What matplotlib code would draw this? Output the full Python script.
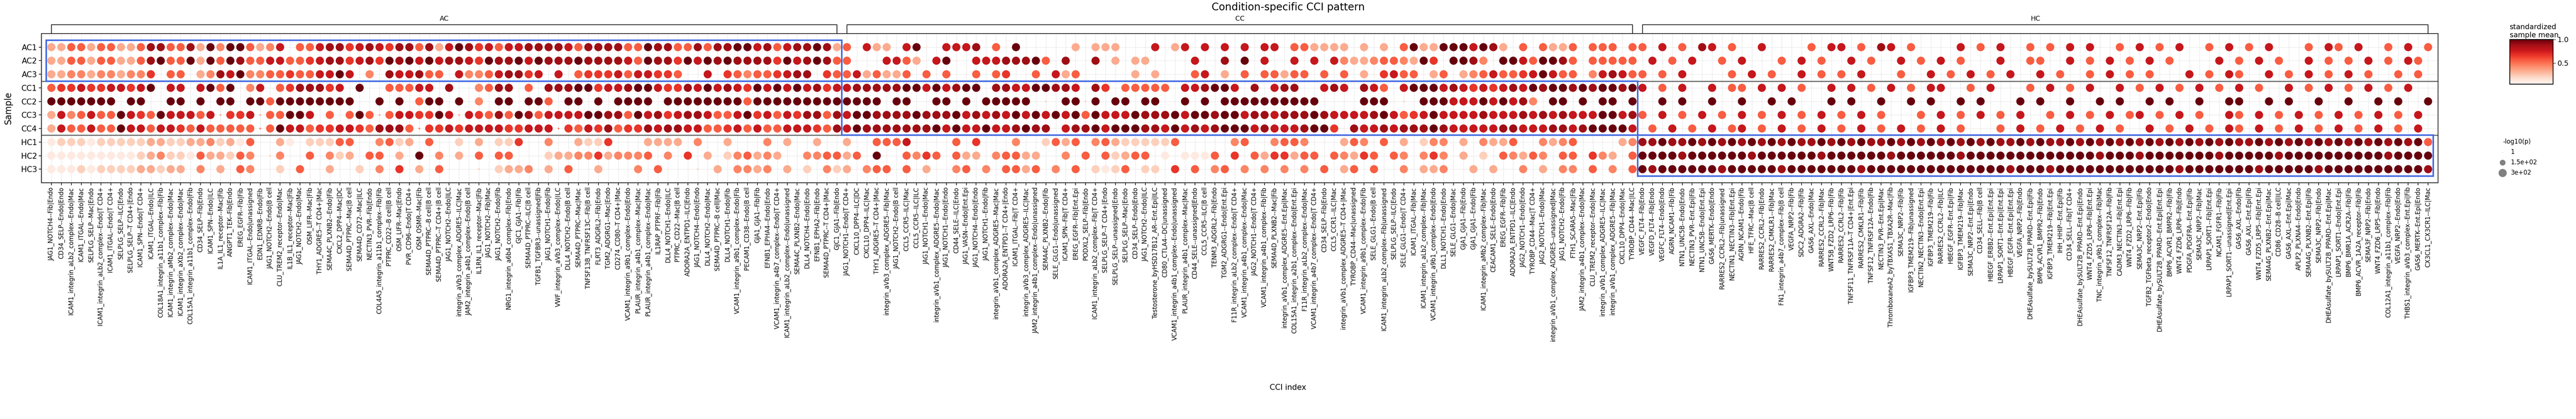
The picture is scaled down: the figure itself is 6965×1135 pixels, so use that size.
import matplotlib
matplotlib.use("Agg")
import matplotlib.pyplot as plt
import numpy as np
from matplotlib.patches import Rectangle
from matplotlib.colors import Normalize

SAMPLES = ["AC1", "AC2", "AC3", "CC1", "CC2", "CC3", "CC4", "HC1", "HC2", "HC3"]
GROUPS = ["AC", "CC", "HC"]

CCI_AC = [
    "JAG1_NOTCH4--Fib|Endo", "CD34_SELP--Endo|Endo", "ICAM1_integrin_aLb2_complex--Endo|Mac",
    "ICAM1_ITGAL--Endo|Mac", "SELPLG_SELP--Mac|Endo", "ICAM1_integrin_aLb2_complex--Endo|T CD4+",
    "ICAM1_ITGAL--Endo|T CD4+", "SELPLG_SELP--ILC|Endo", "SELPLG_SELP--T CD4+|Endo",
    "ICAM1_SPN--Endo|T CD4+", "ICAM1_ITGAL--Endo|ILC", "COL18A1_integrin_a11b1_complex--Fib|Fib",
    "ICAM1_integrin_aMb2_complex--Endo|Mac", "ICAM1_integrin_aXb2_complex--Endo|Mac",
    "COL15A1_integrin_a11b1_complex--Endo|Fib", "CD34_SELP--Fib|Endo", "ICAM1_SPN--Endo|ILC",
    "IL1A_IL1_receptor--Mac|Fib", "ANGPT1_TEK--Fib|Endo", "EREG_EGFR--Fib|Fib",
    "ICAM1_ITGAL--Endo|unassigned", "EDN1_EDNRB--Endo|Fib", "JAG1_NOTCH2--Endo|B cell",
    "CLU_TREM2_receptor--Endo|Mac", "IL1B_IL1_receptor--Mac|Fib", "JAG1_NOTCH2--Endo|Mac",
    "OSM_LIFR--Mac|Fib", "THY1_ADGRE5--T CD4+|Mac", "SEMA4C_PLXNB2--Endo|Fib", "CXCL2_DPP4--Mac|DC",
    "SEMA4D_PTPRC--Mac|B cell", "SEMA4D_CD72--Mac|ILC", "NECTIN3_PVR--Fib|Endo",
    "COL4A5_integrin_a11b1_complex--Fib|Fib", "PTPRC_CD22--B cell|B cell", "OSM_LIFR--Mac|Endo",
    "PVR_CD96--Endo|T CD4+", "OSM_OSMR--Mac|Fib", "SEMA4D_PTPRC--B cell|B cell",
    "SEMA4D_PTPRC--T CD4+|B cell", "JAG1_NOTCH2--Endo|ILC", "integrin_aVb3_complex_ADGRE5--ILC|Mac",
    "JAM2_integrin_a4b1_complex--Endo|B cell", "IL1RN_IL1_receptor--Mac|Fib", "JAG1_NOTCH2--Fib|Mac",
    "JAG1_NOTCH2--Endo|Fib", "NRG1_integrin_a6b4_complex--Fib|Endo", "GJC1_GJA1--Fib|Fib",
    "SEMA4D_PTPRC--ILC|B cell", "TGFB1_TGFBR3--unassigned|Fib", "JAG1_NOTCH1--Endo|Fib",
    "VWF_integrin_aVb3_complex--Endo|ILC", "DLL4_NOTCH2--Endo|B cell", "SEMA4D_PTPRC--Mac|Mac",
    "TNFSF13B_TNFRSF13C--Fib|B cell", "FLRT3_ADGRL2--Fib|Endo", "TGM2_ADGRG1--Mac|Endo",
    "CD274_CD80--T CD4+|Mac", "VCAM1_integrin_a9b1_complex--Endo|Endo",
    "PLAUR_integrin_a4b1_complex--Mac|Mac", "PLAUR_integrin_a4b1_complex--Endo|Mac",
    "IL1RAP_PTPRF--Fib|Fib", "DLL4_NOTCH1--Endo|ILC", "PTPRC_CD22--Mac|B cell",
    "ADORA2A_ENTPD1--ILC|Endo", "JAG1_NOTCH4--Endo|Endo", "DLL4_NOTCH2--Endo|Mac",
    "SEMA4D_PTPRC--B cell|Mac", "DLL4_NOTCH1--Endo|Fib", "VCAM1_integrin_a9b1_complex--Endo|Fib",
    "PECAM1_CD38--Endo|B cell", "GJA1_GJA1--Fib|Fib", "EFNB1_EPHA4--Endo|Endo",
    "VCAM1_integrin_a4b7_complex--Endo|T CD4+", "ICAM1_integrin_aLb2_complex--Endo|unassigned",
    "SEMA4C_PLXNB2--Endo|Mac", "DLL4_NOTCH4--Endo|Endo", "EFNB1_EPHA2--Fib|Endo",
    "SEMA4D_PTPRC--T CD4+|Mac", "GJC1_GJA1--Fib|Endo",
]
CCI_CC = [
    "JAG1_NOTCH1--Endo|T CD4+", "CXCL10_DPP4--ILC|DC", "CXCL10_DPP4--ILC|Mac",
    "THY1_ADGRE5--T CD4+|Mac", "integrin_aVb3_complex_ADGRE5--Fib|Mac", "JAG1_NOTCH2--Endo|B cell",
    "CCL5_CCR5--ILC|Mac", "CCL5_CCR5--ILC|ILC", "JAG1_NOTCH1--Endo|Mac",
    "integrin_aVb1_complex_ADGRE5--Endo|Mac", "JAG1_NOTCH1--Endo|Endo", "CD44_SELE--ILC|Endo",
    "JAG1_VASN--Endo|Ent.Epi", "JAG1_NOTCH4--Endo|Endo", "JAG1_NOTCH1--Endo|Fib",
    "integrin_aVb1_complex_ADGRE5--Mac|Mac", "ADORA2A_ENTPD1--T CD4+|Endo", "ICAM1_ITGAL--Fib|T CD4+",
    "integrin_aVb3_complex_ADGRE5--ILC|Mac", "JAM2_integrin_a4b1_complex--Endo|unassigned",
    "SEMA4C_PLXNB2--Endo|Fib", "SELE_GLG1--Endo|unassigned", "ICAM1_SPN--Fib|T CD4+",
    "EREG_EGFR--Fib|Ent.Epi", "PODXL2_SELP--Fib|Endo", "ICAM1_integrin_aLb2_complex--Fib|T CD4+",
    "SELPLG_SELP--T CD4+|Endo", "SELPLG_SELP--unassigned|Endo", "SELPLG_SELP--Mac|Endo",
    "CD34_SELP--Endo|Endo", "JAG1_NOTCH2--Endo|ILC", "Testosterone_byHSD17B12_AR--Ent.Epi|ILC",
    "CD80_CTLA4--DC|unassigned", "VCAM1_integrin_a4b1_complex--Endo|unassigned",
    "PLAUR_integrin_a4b1_complex--Mac|Mac", "CD44_SELE--unassigned|Endo", "CCL5_CCR5--ILC|B cell",
    "TENM3_ADGRL2--Fib|Endo", "TGM2_ADGRG1--Endo|Ent.Epi", "F11R_integrin_aLb2_complex--Endo|T CD4+",
    "VCAM1_integrin_a4b1_complex--Endo|Mac", "JAG2_NOTCH1--Endo|T CD4+",
    "VCAM1_integrin_a4b1_complex--Fib|Fib", "SEMA4D_PLXNB2--Mac|Fib",
    "integrin_aVb1_complex_ADGRE5--Ent.Epi|Mac", "COL15A1_integrin_a2b1_complex--Endo|Ent.Epi",
    "F11R_integrin_aLb2_complex--Endo|Mac", "VCAM1_integrin_a4b7_complex--Endo|T CD4+",
    "CD34_SELP--Fib|Endo", "CCL5_CCR1--ILC|Mac", "integrin_aVb1_complex_ADGRE5--T CD4+|Mac",
    "TYROBP_CD44--Mac|unassigned", "VCAM1_integrin_a9b1_complex--Endo|Fib", "SELE_GLG1--Endo|B cell",
    "ICAM1_integrin_aLb2_complex--Fib|unassigned", "SELPLG_SELP--ILC|Endo", "SELE_GLG1--Endo|T CD4+",
    "ICAM1_ITGAL--Fib|Mac", "ICAM1_integrin_aLb2_complex--Fib|Mac",
    "VCAM1_integrin_a9b1_complex--Endo|Endo", "DLL1_NOTCH1--Endo|Endo", "SELE_GLG1--Endo|Mac",
    "GJA1_GJA1--Fib|Endo", "GJA1_GJA1--Endo|Fib", "ICAM1_integrin_aMb2_complex--Fib|Mac",
    "CEACAM1_SELE--Endo|Endo", "EREG_EGFR--Fib|Fib", "ADORA2A_ENTPD1--ILC|Endo",
    "JAG2_NOTCH1--Endo|Endo", "TYROBP_CD44--Mac|T CD4+", "JAG2_NOTCH1--Endo|Mac",
    "integrin_aVb1_complex_ADGRE5--unassigned|Mac", "JAG1_NOTCH2--Endo|Fib", "FTH1_SCARA5--Mac|Fib",
    "JAM2_integrin_a4b1_complex--Endo|Mac", "CLU_TREM2_receptor--Endo|Mac",
    "integrin_aVb1_complex_ADGRE5--ILC|Mac", "integrin_aVb1_complex_ADGRE5--Fib|Mac",
    "CXCL10_DPP4--Endo|Mac", "TYROBP_CD44--Mac|ILC",
]
CCI_HC = [
    "VEGFC_FLT4--Fib|Endo", "VEGFD_FLT4--Fib|Endo", "VEGFC_FLT4--Endo|Endo", "AGRN_NCAM1--Fib|Fib",
    "NTN1_UNC5B--Endo|Endo", "NECTIN3_PVR--Ent.Epi|Fib", "NTN1_UNC5B--Endo|Ent.Epi",
    "GAS6_MERTK--Endo|Endo", "RARRES2_CCRL2--Fib|unassigned", "NECTIN1_NECTIN3--Fib|Ent.Epi",
    "AGRN_NCAM1--Endo|Fib", "HFE_TFRC--Mac|B cell", "RARRES2_CCRL2--Fib|Endo",
    "RARRES2_CMKLR1--Fib|Mac", "FN1_integrin_a4b7_complex--Fib|B cell", "VEGFA_NRP2--Fib|Fib",
    "SDC2_ADGRA2--Fib|Fib", "GAS6_AXL--Endo|Mac", "RARRES2_CCRL2--Fib|Mac", "WNT5B_FZD2_LRP6--Fib|Fib",
    "RARRES2_CCRL2--Fib|Fib", "TNFSF11_TNFRSF11A--T CD4+|Ent.Epi", "RARRES2_CMKLR1--Fib|Fib",
    "TNFSF12_TNFRSF12A--Endo|Fib", "NECTIN3_PVR--Ent.Epi|Mac", "ThromboxaneA2_byTBXAS1_TBXA2R--Mac|Fib",
    "SEMA3C_NRP2--Fib|Fib", "IGFBP3_TMEM219--Fib|unassigned", "NECTIN2_NECTIN3--Endo|Ent.Epi",
    "IGFBP3_TMEM219--Fib|Fib", "RARRES2_CCRL2--Fib|ILC", "HBEGF_EGFR--Ent.Epi|Fib",
    "IGFBP3_TMEM219--Fib|Mac", "SEMA3C_NRP2--Ent.Epi|Endo", "CD34_SELL--Fib|B cell",
    "HBEGF_ERBB2--Ent.Epi|Ent.Epi", "LRPAP1_SORT1--Ent.Epi|Ent.Epi", "HBEGF_EGFR--Ent.Epi|Ent.Epi",
    "VEGFA_NRP2--Fib|Endo", "DHEAsulfate_bySULT2B_PPARD--Ent.Epi|Fib", "BMP6_ACVR1_BMPR2--Fib|Endo",
    "IGFBP3_TMEM219--Fib|Ent.Epi", "IHH_HHIP--Ent.Epi|Fib", "CD34_SELL--Fib|T CD4+",
    "DHEAsulfate_bySULT2B_PPARD--Ent.Epi|Endo", "WNT4_FZD5_LRP6--Fib|Ent.Epi",
    "TNC_integrin_a9b1_complex--Fib|Mac", "TNFSF12_TNFRSF12A--Fib|Fib", "CADM3_NECTIN3--Fib|Ent.Epi",
    "WNT4_FZD2_LRP6--Fib|Fib", "SEMA3C_NRP2--Ent.Epi|Fib", "TGFB2_TGFbeta_receptor2--Endo|Endo",
    "DHEAsulfate_bySULT2B_PPARD--Ent.Epi|Ent.Epi", "BMP6_ACVR1_BMPR2--Fib|Fib",
    "WNT4_FZD6_LRP6--Fib|Endo", "PDGFA_PDGFRA--Ent.Epi|Fib", "SEMA3C_NRP2--Fib|Mac",
    "LRPAP1_SORT1--Fib|Ent.Epi", "NCAM1_FGFR1--Fib|Fib", "LRPAP1_SORT1--unassigned|Ent.Epi",
    "GAS6_AXL--Endo|Fib", "GAS6_AXL--Ent.Epi|Fib", "WNT4_FZD5_LRP5--Fib|Ent.Epi",
    "SEMA4G_PLXNB2--Ent.Epi|Mac", "CD86_CD28--B cell|ILC", "GAS6_AXL--Ent.Epi|Mac",
    "APLP2_PLXNA4--Endo|Endo", "SEMA4G_PLXNB2--Ent.Epi|Fib", "SEMA3C_NRP2--Fib|Endo",
    "DHEAsulfate_bySULT2B_PPARD--Ent.Epi|Mac", "LRPAP1_SORT1--Endo|Ent.Epi",
    "BMP6_BMR1A_ACR2A--Fib|Fib", "BMP6_ACVR_1A2A_receptor--Fib|Fib", "SEMA3F_NRP2--Fib|Endo",
    "WNT4_FZD6_LRP5--Fib|Endo", "COL12A1_integrin_a11b1_complex--Fib|Fib", "VEGFA_NRP2--Endo|Endo",
    "THBS1_integrin_aVb3_complex--Ent.Epi|Fib", "GAS6_MERTK--Ent.Epi|Endo", "CX3CL1_CX3CR1--ILC|Mac",
]

# per sample, one string per CCI group: colour level 1-9
# (digit = full-size dot, letter a-i = small dot of that level, '.' = no dot)
AC1 = ["3355355335 8855839499 5347.55788 6787688583 7986757788 8875888855 9885585889 9785788983",
       "5.733.79a. 7778.5a9.a ...3.333.. a7a37.7.7. 7.77.55333 3.3.3.5933 9997983.5. 5335.555.5",
       "5.7.5.87.5 ..7.a..5.7 7.5.87.5.. a.7.5.7..5 .5.7.7a.5. 7.5.7..5.7 .5.7.a.5.7 5.7..5.7.5"]
AC2 = ["3355355335 8955939598 5577556788 6786989797 8876988979 8889888875 9886979898 8886978985",
       "5a.a7753a7 9a.7778889 5a8..8.3.3 3.a.a7..8. 9.7..7.7.7 4334554396 .9984a9975 9985.55555",
       ".7.5.7..5. 7.a.5.7.5. .7.5..7.5. 7.5.a.7..5 5..7.5.7.5 .7.5.a..7. 5.7.5..7.5 .5.7.5.75."]
AC3 = ["3344344344 6.55.34879 4455655779 7.4.877855 .744578867 .7.5666757 7665..7.65 4556788.65",
       "5735335.5a 5.a5.56.a5 a735a..a.3 .3..a57.3a 5.55355.5. 5.3a6755.3 5a34575567 9755.47875",
       "5.5.7.a..5 .7.5..7.5. 5.7.a.5..7 .5.7.5.7.. 7.5..5.7.5 .5.a.7.5.7 5..7.5.7.5 .7.5..5.5."]
CC1 = ["5667667767 9.77.7959. 47.5688867 .9..55577. 8..4588.5. 8889967789 9766879787 6979797867",
       "7888889979 7899.88779 9887.86.55 555.778997 .8.788..78 7.875.7999 7876767879 8998989989",
       "7.5.7..7.5 5.7.7.5..7 .7.5.7.5.7 7..5.7.a.5 .7.5.7..7. 5.7.5.7.5. 7.5..7.5.7 .5.7.5.7.."]
CC2 = ["9999999.99 ..99.9.99. 9959999999 9..9.9.599 .9.4.99.99 5.99.9a999 9.99999999 5999999999",
       "9999.99..9 9.9.99999. b.99b9.99. 99..9.9.99 99999999.. a.999.b.99 9777979784 .99.9.99.9",
       "..9.9..9.. 9..9.9...9 .9..9..9.9 ..9.9...9. 9..9..9.9. .9.9..9..9 9..9.9..9. .9..9.9..9"]
CC3 = ["3745755976 5977757c66 7c55997.5. 595c577669 7c76585985 7777998859 7867887557 9675768858",
       "7998888988 8978787979 7979597779 8889799899 7887888987 7778975679 7777877787 8787779978",
       "5.7.5.7.5. 7.5.7.5.7. 5.7.5.a.5. 7.5.7.5.7. .5.7.5.7.5 7.5.7.5..7 5.7.5.7.5. 7.5.7.5.7."]
CC4 = ["3755755977 5776575555 5d59775667 7658885d66 7677776677 7d65768566 8788775567 5755777658",
       "7988888889 7977977898 8a78897999 8879787899 9787778996 a877878889 8777778877 7887899997",
       ".5.7.5.7.5 7.5.7.5.7. 5.7.5.7.5. 7.5.a.5.7. 5.7.5.7.5. .7.5.7.5.7 5.7.5.7.5. 7.5.7.5.7."]
HC1 = ["1222122222 3322334231 5..31.2225 5..4523.5. .2.3.226.. 4..3226... 3333.4..3. ..4.3..3..",
       "3a.5557a.a a5.6.a.4.. 2535.45322 2225.....4 5.a4554.a. 354a5.3.24 4.3.4335.. 4345.a.a34",
       "8898898989 8989898898 9898898989 8989898898 9889898989 8989898989 8898989898 9898989895"]
HC2 = ["1111111112 3422153325 4.b4..5.42 3.55.3.9.4 .3.5.55... 2334463444 5.4.6.3.24 5343.a4455",
       "35.9a.5465 .533.45533 ..4.5.5235 5.1.1115.6 .5366355.5 4365.54.46 4.3.2.5435 4.55.643.5",
       "9999899999 9899999989 9999989999 9989999999 9999998999 8999999989 9999899999 9999989999"]
HC3 = ["1112122223 3233.4.3.5 4.a2.5.a3. .2.4.6.3.5 a..b.2334. 3.5..3.a.4 .5a..b.3.4 434.3.2.42",
       "3a455.5a3a .45a4.5535 .4.5.2125. 22.6.5.45. 4a4.4.4a5. 35.5.a4.33 4.a3.3.a4. 3.44.5.4.5",
       "9899999989 9999899999 9989999999 9999999899 9899999999 9999899999 9989999989 9999999998"]

ROWS = [AC1, AC2, AC3, CC1, CC2, CC3, CC4, HC1, HC2, HC3]
NLOGP_FULL = 300
NLOGP_SMALL = 15

groups_cci = [CCI_AC, CCI_CC, CCI_HC]
labels = CCI_AC + CCI_CC + CCI_HC
n_per_group = [len(g) for g in groups_cci]
offsets = np.cumsum([0] + n_per_group[:-1])

xs, ys, vals, pv = [], [], [], []
for r, row in enumerate(ROWS):
    for g, block in enumerate(row):
        codes = block.replace(" ", "")[:n_per_group[g]]
        for c, ch in enumerate(codes):
            if ch == ".":
                continue
            if ch.isdigit():
                v, p = int(ch) / 9, NLOGP_FULL
            else:
                v, p = (ord(ch) - 96) / 9, NLOGP_SMALL
            xs.append(offsets[g] + c); ys.append(r); vals.append(v); pv.append(p)

W, H = 6965, 1135
fig = plt.figure(figsize=(W / 100, H / 100), dpi=100)
ax = fig.add_axes([112 / W, 1 - 495 / H, (6592 - 112) / W, (495 - 91) / H])

norm = Normalize(vmin=0.05, vmax=1.0)


def size_of(p):
    return np.asarray(p) / NLOGP_FULL * 250


sc = ax.scatter(xs, ys, c=vals, cmap="Reds", norm=norm, s=size_of(pv),
                edgecolors="none", zorder=3)

ax.set_xlim(-1, len(labels))
ax.set_ylim(len(SAMPLES), -1)
ax.set_xticks(range(len(labels)))
ax.set_xticklabels(labels, rotation=90, fontsize=12)
ax.set_yticks(range(len(SAMPLES)))
ax.set_yticklabels(SAMPLES, fontsize=15)
ax.tick_params(length=5, width=1.2)
ax.grid(True, color="#e6e6e6", lw=0.8, zorder=0)
for s in ax.spines.values():
    s.set_linewidth(1.5)
    s.set_color("#222222")

for yl in (2.5, 6.5):
    ax.axhline(yl, color="#6e6e6e", lw=2.2, zorder=2)

# blue boxes marking each condition's own block, plus group brackets on top
row_spans = [(0, 3), (3, 7), (7, 10)]
for g, n in enumerate(n_per_group):
    start = offsets[g]
    r0, r1 = row_spans[g]
    ax.add_patch(Rectangle((start - 0.5, r0 - 0.5), n, r1 - r0, fill=False,
                           ec="#4169E1", lw=3, zorder=4))
    ax.plot([start, start, start + n - 1, start + n - 1], [-1, -1.65, -1.65, -1],
            color="#222222", lw=1.5, clip_on=False)
    ax.text(start + (n - 1) / 2, -1.85, GROUPS[g], ha="center", va="bottom", fontsize=13)

fig.text(0.5, 1 - 20 / H, "Condition-specific CCI pattern", ha="center", va="center", fontsize=20)
fig.text(0.5, 1 - 1050 / H, "CCI index", ha="center", va="center", fontsize=15)
fig.text(22 / W, 1 - 293 / H, "Sample", rotation=90, ha="center", va="center", fontsize=17)

# colour bar
cax = fig.add_axes([6786 / W, 1 - 228 / H, 117 / W, 121 / H])
cb = fig.colorbar(sc, cax=cax, ticks=[0.5, 1.0])
cb.ax.tick_params(labelsize=14, length=5)
cb.outline.set_linewidth(1.5)
cax.set_title("standardized\nsample mean", fontsize=14, loc="left", pad=4)

# size legend
handles = [ax.scatter([], [], s=size_of(v), c="#808080", edgecolors="none")
           for v in (1, 150, 300)]
fig.legend(handles, ["1", "1.5e+02", "3e+02"], title="-log10(p)", frameon=False,
           loc="upper left", bbox_to_anchor=(6735 / W, 1 - 360 / H), fontsize=12,
           title_fontsize=12, handletextpad=0.3, labelspacing=0.6)

fig.savefig("out.png", dpi=100)
